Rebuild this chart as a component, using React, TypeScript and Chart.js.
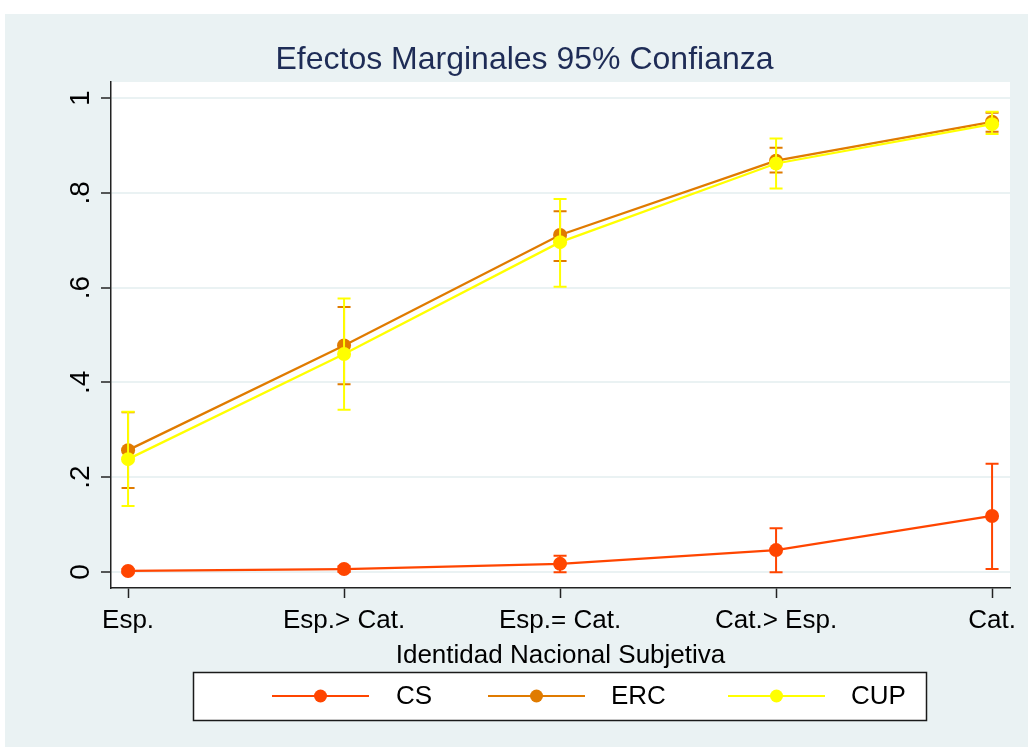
import { useEffect, useRef } from 'react';
import { Chart, registerables } from 'chart.js';

Chart.register(...registerables);

// ---- data ----
const categories = ['Esp.', 'Esp.> Cat.', 'Esp.= Cat.', 'Cat.> Esp.', 'Cat.'];
const yTickLabels = ['0', '.2', '.4', '.6', '.8', '1'];
const seriesNames = ['CS', 'ERC', 'CUP'];

const csValues = [0.002, 0.006, 0.017, 0.046, 0.118];
const csLower = [-0.002, 0.0, -0.001, -0.001, 0.006];
const csUpper = [0.006, 0.012, 0.034, 0.092, 0.228];

const ercValues = [0.257, 0.478, 0.711, 0.868, 0.95];
const ercLower = [0.177, 0.396, 0.656, 0.843, 0.929];
const ercUpper = [0.337, 0.559, 0.761, 0.895, 0.969];

const cupValues = [0.238, 0.46, 0.696, 0.862, 0.945];
const cupLower = [0.139, 0.342, 0.602, 0.809, 0.924];
const cupUpper = [0.338, 0.577, 0.787, 0.915, 0.971];

// ---- style ----
const seriesColors = ['#FF4500', '#E07B00', '#FFFF00'];
const BG = '#EAF2F3';
const FONT = "'Liberation Sans', Arial, sans-serif";
const TITLE_COLOR = '#1E2C56';
const W = 1023;
const H = 733;

const seriesValues = [csValues, ercValues, cupValues];
const seriesLower = [csLower, ercLower, cupLower];
const seriesUpper = [csUpper, ercUpper, cupUpper];

const bgPlugin = {
  id: 'bgPlugin',
  beforeDraw(chart: any) {
    const { ctx, chartArea } = chart;
    ctx.save();
    ctx.fillStyle = BG;
    ctx.fillRect(0, 0, chart.width, chart.height);
    ctx.fillStyle = '#FFFFFF';
    ctx.fillRect(chartArea.left, chartArea.top, chartArea.right - chartArea.left, chartArea.bottom - chartArea.top);
    ctx.restore();
  },
};

const errorBarPlugin = {
  id: 'errorBarPlugin',
  afterDatasetDraw(chart: any, args: any) {
    const i = args.index;
    const lower = seriesLower[i];
    const upper = seriesUpper[i];
    if (!lower || !upper) return;
    const { ctx } = chart;
    const xs = chart.scales.x;
    const ys = chart.scales.y;
    const cap = 6.5;
    ctx.save();
    ctx.strokeStyle = seriesColors[i];
    ctx.lineWidth = 2;
    for (let k = 0; k < lower.length; k++) {
      const px = xs.getPixelForValue(k);
      const pLo = ys.getPixelForValue(lower[k]);
      const pHi = ys.getPixelForValue(upper[k]);
      ctx.beginPath();
      ctx.moveTo(px, pLo);
      ctx.lineTo(px, pHi);
      ctx.moveTo(px - cap, pLo);
      ctx.lineTo(px + cap, pLo);
      ctx.moveTo(px - cap, pHi);
      ctx.lineTo(px + cap, pHi);
      ctx.stroke();
    }
    ctx.restore();
  },
};

const legendPlugin = {
  id: 'boxLegend',
  afterDraw(chart: any) {
    const { ctx } = chart;
    const bx = 188;
    const by = 658;
    const bw = 733;
    const bh = 48;
    ctx.save();
    ctx.fillStyle = '#FFFFFF';
    ctx.fillRect(bx, by, bw, bh);
    ctx.strokeStyle = '#1A1A1A';
    ctx.lineWidth = 1.5;
    ctx.strokeRect(bx + 0.5, by + 0.5, bw, bh);
    const cy = by + bh / 2;
    const lineStarts = [267, 483, 723];
    const textStarts = [391, 606, 846];
    ctx.font = `26px ${FONT}`;
    ctx.textBaseline = 'middle';
    ctx.textAlign = 'left';
    for (let i = 0; i < seriesNames.length; i++) {
      const x0 = lineStarts[i];
      ctx.strokeStyle = seriesColors[i];
      ctx.lineWidth = 2.2;
      ctx.beginPath();
      ctx.moveTo(x0, cy);
      ctx.lineTo(x0 + 97, cy);
      ctx.stroke();
      ctx.fillStyle = seriesColors[i];
      ctx.beginPath();
      ctx.arc(x0 + 48.5, cy, 6.5, 0, Math.PI * 2);
      ctx.fill();
      ctx.fillStyle = '#000000';
      ctx.fillText(seriesNames[i], textStarts[i], cy + 1);
    }
    ctx.restore();
  },
};

export default function App() {
  const ref = useRef<HTMLCanvasElement | null>(null);

  useEffect(() => {
    if (!ref.current) return;
    const datasets = seriesNames.map((name, i) => ({
      label: name,
      data: seriesValues[i].map((v, k) => ({ x: k, y: v })),
      borderColor: seriesColors[i],
      backgroundColor: seriesColors[i],
      borderWidth: 2.3,
      pointRadius: 7,
      pointBorderWidth: 0,
      pointBackgroundColor: seriesColors[i],
      tension: 0,
      order: seriesNames.length - 1 - i,
      clip: false as any,
    }));

    const chart = new Chart(ref.current, {
      type: 'line',
      data: { datasets },
      plugins: [bgPlugin, errorBarPlugin, legendPlugin],
      options: {
        animation: false,
        responsive: false,
        maintainAspectRatio: false,
        devicePixelRatio: 1,
        layout: { padding: { left: 34, right: 18, top: 0, bottom: 76 } },
        plugins: {
          legend: { display: false },
          tooltip: { enabled: false },
          title: {
            display: true,
            text: 'Efectos Marginales 95% Confianza',
            color: TITLE_COLOR,
            font: { family: FONT, size: 32, weight: 'normal', lineHeight: 1.2 },
            padding: { top: 26.6, bottom: 3 },
          },
        },
        scales: {
          x: {
            type: 'linear',
            min: -0.079,
            max: 4.083,
            afterFit: (s: any) => {
              s.height = 83;
            },
            ticks: {
              stepSize: 1,
              includeBounds: false,
              autoSkip: false,
              maxRotation: 0,
              minRotation: 0,
              padding: 7,
              color: '#000',
              font: { family: FONT, size: 26 },
              callback: (v: any) => (Number.isInteger(v) ? categories[v] ?? '' : ''),
            },
            grid: {
              drawOnChartArea: false,
              drawTicks: true,
              tickLength: 10,
              tickColor: '#222',
              tickWidth: 1.5,
            },
            border: { display: true, color: '#222', width: 1.5 },
            title: {
              display: true,
              text: 'Identidad Nacional Subjetiva',
              color: '#000',
              font: { family: FONT, size: 26, lineHeight: 1.2 },
              padding: { top: 0, bottom: 0 },
            },
          },
          y: {
            type: 'linear',
            min: -0.034,
            max: 1.034,
            afterFit: (s: any) => {
              s.width = 72;
            },
            ticks: {
              stepSize: 0.2,
              includeBounds: false,
              minRotation: 90,
              maxRotation: 90,
              crossAlign: 'center',
              padding: 8,
              color: '#000',
              font: { family: FONT, size: 28 },
              callback: (_v: any, idx: number) => yTickLabels[idx] ?? '',
            },
            grid: {
              color: BG,
              lineWidth: 2,
              drawTicks: true,
              tickLength: 10,
              tickColor: '#222',
              tickWidth: 1.5,
            },
            border: { display: true, color: '#222', width: 1.5 },
          },
        },
      } as any,
    });
    return () => chart.destroy();
  }, []);

  return (
    <div style={{ position: 'absolute', left: 5, top: 14, width: W, height: H, background: BG }}>
      <canvas ref={ref} width={W} height={H} style={{ display: 'block', width: W, height: H }} />
    </div>
  );
}
